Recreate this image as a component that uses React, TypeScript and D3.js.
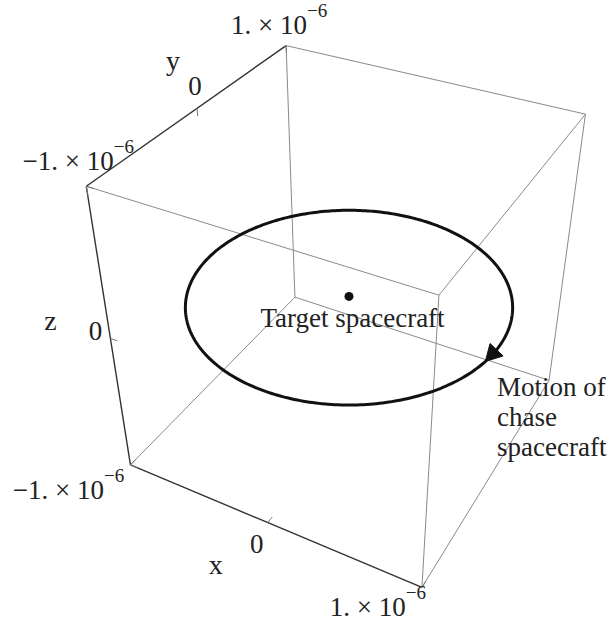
import React from "react";
import * as d3 from "d3";

// Plot range shared by the three axes and the tick values along each axis
const axisDomain: [number, number] = [-1e-6, 1e-6];
const tickValues: number[] = [-1e-6, 0, 1e-6];
const tickText: string[] = ["\u22121.", "0", "1."];

// Relative orbit of the chase spacecraft (circle in the x–y plane, centred on the target)
const orbitRadius = 0.97e-6;
const orbitPlaneZ = 0;
const targetPosition: [number, number, number] = [0, 0, 0];
// Arrowhead on the orbit: base and tip angles (degrees), motion is clockwise seen from +z
const arrowAngles: [number, number] = [-3, -10.5];

// Camera (Mathematica-style default view point, in box-scaled coordinates)
const viewPoint: [number, number, number] = [1.3, -2.4, 2];

const WIDTH = 613;
const HEIGHT = 624;
const FOCAL = 1134;
const CENTER: [number, number] = [349, 296.4];
const FONT = "'Liberation Serif', 'Times New Roman', serif";

type V3 = [number, number, number];
const sub = (a: V3, b: V3): V3 => [a[0] - b[0], a[1] - b[1], a[2] - b[2]];
const dot = (a: V3, b: V3) => a[0] * b[0] + a[1] * b[1] + a[2] * b[2];
const cross = (a: V3, b: V3): V3 => [
  a[1] * b[2] - a[2] * b[1],
  a[2] * b[0] - a[0] * b[2],
  a[0] * b[1] - a[1] * b[0],
];
const norm = (a: V3): V3 => {
  const l = Math.hypot(a[0], a[1], a[2]);
  return [a[0] / l, a[1] / l, a[2] / l];
};

// data value -> box coordinate (cube of side 1 centred at the origin)
const toBox = d3.scaleLinear().domain(axisDomain).range([-0.5, 0.5]);
// normalised image-plane coordinate -> pixels
const sx = d3.scaleLinear().domain([-1, 1]).range([CENTER[0] - FOCAL, CENTER[0] + FOCAL]);
const sy = d3.scaleLinear().domain([-1, 1]).range([CENTER[1] + FOCAL, CENTER[1] - FOCAL]);

const fwd = norm([-viewPoint[0], -viewPoint[1], -viewPoint[2]]);
const right = norm(cross(fwd, [0, 0, 1]));
const up = cross(right, fwd);

function project(p: V3): [number, number] {
  const q = sub([toBox(p[0]), toBox(p[1]), toBox(p[2])], viewPoint);
  const d = dot(q, fwd);
  return [sx(dot(q, right) / d), sy(dot(q, up) / d)];
}

const [lo, hi] = axisDomain;
const corners: V3[] = [];
for (const x of [lo, hi]) for (const y of [lo, hi]) for (const z of [lo, hi]) corners.push([x, y, z]);

type Edge = { a: V3; b: V3; axis: boolean };
const edges: Edge[] = [];
for (let i = 0; i < corners.length; i++) {
  for (let j = i + 1; j < corners.length; j++) {
    const a = corners[i];
    const b = corners[j];
    const diff = [0, 1, 2].filter((k) => a[k] !== b[k]);
    if (diff.length !== 1) continue;
    const k = diff[0];
    // axes run along x (y=lo,z=lo), y (x=lo,z=hi), z (x=lo,y=lo)
    const axis =
      (k === 0 && a[1] === lo && a[2] === lo) ||
      (k === 1 && a[0] === lo && a[2] === hi) ||
      (k === 2 && a[0] === lo && a[1] === lo);
    edges.push({ a, b, axis });
  }
}

const orbitPoint = (deg: number): V3 => {
  const t = (deg * Math.PI) / 180;
  return [orbitRadius * Math.cos(t), orbitRadius * Math.sin(t), orbitPlaneZ];
};

const tickLen = (axisDomain[1] - axisDomain[0]) * 0.025;

// axis definitions: where the axis runs, direction of tick marks, label offsets
const axes = [
  {
    name: "x",
    at: (v: number): V3 => [v, lo, lo],
    tickDir: [0, 1, 0] as V3,
    labelShow: [true, true, true],
    labelOffset: [[-62, 34], [-11, 30], [-44, 29]],
    nameOffset: [-52, 51],
  },
  {
    name: "y",
    at: (v: number): V3 => [lo, v, hi],
    tickDir: [0, 0, -1] as V3,
    labelShow: [true, true, true],
    labelOffset: [[-8, -16], [-2, -13], [-7, -12]],
    nameOffset: [-24, -38],
  },
  {
    name: "z",
    at: (v: number): V3 => [lo, lo, v],
    tickDir: [1, 0, 0] as V3,
    labelShow: [false, true, false],
    labelOffset: [[0, 0], [-15, 2], [0, 0]],
    nameOffset: [-60, -8],
  },
];

const line = d3.line<[number, number]>();

export default function App() {
  const orbit = d3.range(0, 361, 1).map((deg) => project(orbitPoint(deg)));
  const target = project(targetPosition);

  const base = project(orbitPoint(arrowAngles[0]));
  const tip = project(orbitPoint(arrowAngles[1]));
  const dx = tip[0] - base[0];
  const dy = tip[1] - base[1];
  const len = Math.hypot(dx, dy);
  const nx = -dy / len;
  const ny = dx / len;
  const hw = 9;
  const arrow: [number, number][] = [
    tip,
    [base[0] + nx * hw, base[1] + ny * hw],
    [base[0] - nx * hw, base[1] - ny * hw],
  ];

  return (
    <svg
      width={WIDTH}
      height={HEIGHT}
      style={{ position: "absolute", left: 0, top: 0, background: "#fff" }}
      fontFamily={FONT}
    >
      <rect width={WIDTH} height={HEIGHT} fill="#fff" />
      {edges.map((e, i) => {
        const [x1, y1] = project(e.a);
        const [x2, y2] = project(e.b);
        return (
          <line
            key={i}
            x1={x1}
            y1={y1}
            x2={x2}
            y2={y2}
            stroke={e.axis ? "#333" : "#8a8a8a"}
            strokeWidth={e.axis ? 1.4 : 1}
          />
        );
      })}

      {axes.map((ax) =>
        tickValues.map((v, i) => {
          const p0 = ax.at(v);
          const p1: V3 = [
            p0[0] + ax.tickDir[0] * tickLen,
            p0[1] + ax.tickDir[1] * tickLen,
            p0[2] + ax.tickDir[2] * tickLen,
          ];
          const a = project(p0);
          const b = project(p1);
          return (
            <line
              key={ax.name + i}
              x1={a[0]}
              y1={a[1]}
              x2={b[0]}
              y2={b[1]}
              stroke="#777"
              strokeWidth={1}
            />
          );
        })
      )}

      <path d={line(orbit) ?? ""} fill="none" stroke="#111" strokeWidth={3} />
      <path d={(line(arrow) ?? "") + "Z"} fill="#111" stroke="#111" strokeWidth={1} />
      <circle cx={target[0]} cy={target[1]} r={4.5} fill="#111" />

      {axes.map((ax) =>
        tickValues.map((v, i) => {
          if (!ax.labelShow[i]) return null;
          const [px, py] = project(ax.at(v));
          const [ox, oy] = ax.labelOffset[i];
          const t = tickText[i];
          return (
            <text
              key={"lbl" + ax.name + i}
              x={px + ox}
              y={py + oy}
              textAnchor="middle"
              fontSize={27}
              fill="#222"
            >
              {v === 0 ? (
                t
              ) : (
                <>
                  <tspan>{t + " \u00d7 10"}</tspan>
                  <tspan dy={-17} fontSize={19}>
                    {"\u22126"}
                  </tspan>
                </>
              )}
            </text>
          );
        })
      )}

      {axes.map((ax) => {
        const [px, py] = project(ax.at(0));
        return (
          <text
            key={"name" + ax.name}
            x={px + ax.nameOffset[0]}
            y={py + ax.nameOffset[1]}
            textAnchor="middle"
            fontSize={28}
            fill="#222"
          >
            {ax.name}
          </text>
        );
      })}

      <text x={target[0] + 3.5} y={target[1] + 31} textAnchor="middle" fontSize={27} fill="#222">
        Target spacecraft
      </text>
      <text x={497} y={396} fontSize={27} fill="#222">
        <tspan x={497}>Motion of</tspan>
        <tspan x={497} dy={30}>
          chase
        </tspan>
        <tspan x={497} dy={30}>
          spacecraft
        </tspan>
      </text>
    </svg>
  );
}
